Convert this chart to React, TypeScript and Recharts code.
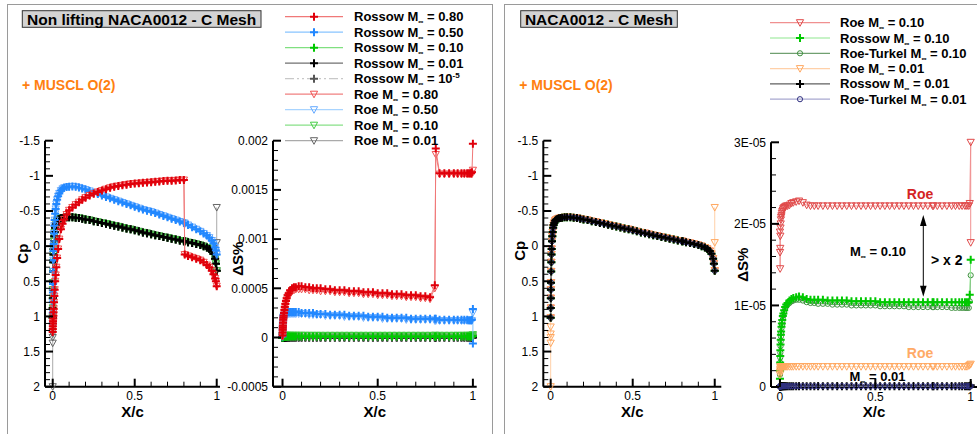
import React from 'react';
import { ScatterChart, Scatter, XAxis, YAxis } from 'recharts';

const FONT = '"Liberation Sans", Arial, Helvetica, sans-serif';
const H = 434;

// chordwise stations x/c, shared by every curve (dense near the leading edge)
const X_C = [
  0, 0.0005, 0.001, 0.0015, 0.002, 0.003, 0.004, 0.005, 0.006, 0.008,
  0.01, 0.012, 0.015, 0.018, 0.022, 0.027, 0.033, 0.04, 0.05, 0.06,
  0.07, 0.085, 0.1, 0.12, 0.14, 0.16, 0.18, 0.2, 0.225, 0.25,
  0.275, 0.3, 0.325, 0.35, 0.375, 0.4, 0.425, 0.45, 0.475, 0.5,
  0.525, 0.55, 0.575, 0.6, 0.625, 0.65, 0.675, 0.7, 0.725, 0.75,
  0.775, 0.8, 0.805, 0.825, 0.85, 0.875, 0.9, 0.92, 0.94, 0.955,
  0.97, 0.98, 0.99, 0.995, 1,
];

// Cp, low Mach (0.10 / 0.01 / 1e-5 all fall on this curve)
const CP_LOW = [
  1.02, 0.88, 0.74, 0.62, 0.52, 0.36, 0.23, 0.12, 0.04, -0.07,
  -0.14, -0.2, -0.26, -0.3, -0.33, -0.36, -0.375, -0.385, -0.395, -0.4,
  -0.405, -0.41, -0.41, -0.41, -0.405, -0.4, -0.39, -0.38, -0.37, -0.355,
  -0.345, -0.33, -0.32, -0.305, -0.29, -0.28, -0.265, -0.25, -0.24, -0.225,
  -0.21, -0.195, -0.185, -0.17, -0.155, -0.145, -0.13, -0.12, -0.105, -0.095,
  -0.08, -0.07, -0.068, -0.055, -0.045, -0.03, -0.015, 0, 0.02, 0.04,
  0.07, 0.11, 0.18, 0.25, 0.35,
];
const CP_M050 = [
  1.1, 0.95, 0.8, 0.66, 0.54, 0.36, 0.2, 0.07, -0.03, -0.18,
  -0.29, -0.37, -0.46, -0.53, -0.6, -0.66, -0.71, -0.75, -0.79, -0.815,
  -0.83, -0.84, -0.845, -0.85, -0.845, -0.835, -0.82, -0.805, -0.785, -0.76,
  -0.74, -0.72, -0.7, -0.68, -0.66, -0.64, -0.62, -0.6, -0.58, -0.56,
  -0.54, -0.52, -0.505, -0.49, -0.47, -0.45, -0.43, -0.41, -0.39, -0.37,
  -0.35, -0.33, -0.325, -0.3, -0.27, -0.24, -0.21, -0.18, -0.15, -0.12,
  -0.08, -0.04, 0.02, 0.06, 0.12,
];
const CP_M080 = [
  1.22, 1.18, 1.14, 1.1, 1.07, 1.03, 0.99, 0.94, 0.89, 0.8,
  0.71, 0.62, 0.5, 0.41, 0.3, 0.17, 0.04, -0.1, -0.24, -0.32,
  -0.38, -0.45, -0.51, -0.55, -0.59, -0.625, -0.66, -0.69, -0.72, -0.745,
  -0.77, -0.79, -0.81, -0.83, -0.845, -0.855, -0.865, -0.875, -0.885, -0.89,
  -0.895, -0.9, -0.905, -0.91, -0.915, -0.92, -0.925, -0.93, -0.93, -0.935,
  -0.94, -0.94, 0.12, 0.14, 0.16, 0.18, 0.2, 0.23, 0.27, 0.3,
  0.35, 0.4, 0.46, 0.5, 0.57,
];
// Roe M=0.01 spurious values at x=0 and x=1
const CP_ROE001_LE = [2.0, 1.38, 1.3, 1.25, 1.15];
const CP_ROE001_TE = [-0.05, -0.55];

// entropy error, left panel, in units of 1E-04
const DS_ROSSOW_080 = [
  0.2, 0.5, 0.8, 1.0, 1.2, 1.5, 1.8, 2.0, 2.2, 2.5,
  2.8, 3.1, 3.4, 3.7, 4.0, 4.3, 4.5, 4.8, 5.0, 5.1,
  5.1, 5.2, 5.2, 5.1, 5.1, 5.0, 5.0, 5.0, 4.9, 4.9,
  4.8, 4.8, 4.8, 4.7, 4.7, 4.7, 4.6, 4.6, 4.6, 4.5,
  4.5, 4.5, 4.4, 4.4, 4.4, 4.3, 4.3, 4.3, 4.2, 4.2,
  4.1, 5.3, 19.2, 16.7, 16.7, 16.7, 16.7, 16.7, 16.7, 16.7,
  16.7, 16.7, 16.7, 16.8, 19.7,
];
const DS_ROE_080 = [
  0.1, 0.4, 0.6, 0.8, 1.0, 1.3, 1.6, 1.8, 2.0, 2.3,
  2.6, 2.9, 3.2, 3.5, 3.8, 4.1, 4.3, 4.5, 4.7, 4.8,
  4.9, 4.9, 4.9, 4.9, 4.8, 4.8, 4.8, 4.7, 4.7, 4.7,
  4.6, 4.6, 4.6, 4.5, 4.5, 4.5, 4.4, 4.4, 4.4, 4.3,
  4.3, 4.3, 4.2, 4.2, 4.2, 4.1, 4.1, 4.1, 4.0, 4.0,
  3.9, 5.0, 18.6, 16.6, 16.6, 16.6, 16.6, 16.6, 16.6, 16.6,
  16.6, 16.6, 16.6, 16.6, 17.0,
];
const DS_ROSSOW_050 = [
  0.1, 0.4, 0.8, 1.1, 1.4, 1.7, 2.0, 2.2, 2.3, 2.4,
  2.5, 2.5, 2.5, 2.5, 2.6, 2.6, 2.6, 2.6, 2.6, 2.6,
  2.6, 2.6, 2.5, 2.5, 2.5, 2.5, 2.4, 2.4, 2.4, 2.3,
  2.3, 2.3, 2.3, 2.2, 2.2, 2.2, 2.2, 2.1, 2.1, 2.1,
  2.1, 2.0, 2.0, 2.0, 2.0, 2.0, 1.9, 1.9, 1.9, 1.9,
  1.9, 1.9, 1.9, 1.8, 1.8, 1.8, 1.8, 1.8, 1.8, 1.8,
  1.8, 1.75, 1.75, 1.8, 2.9,
];
const DS_ROSSOW_050_TE = [-0.6];
const DS_ROE_050 = [
  0.1, 0.3, 0.6, 0.9, 1.2, 1.5, 1.8, 2.0, 2.1, 2.2,
  2.3, 2.3, 2.4, 2.4, 2.4, 2.4, 2.4, 2.4, 2.4, 2.4,
  2.4, 2.4, 2.4, 2.4, 2.3, 2.3, 2.3, 2.3, 2.2, 2.2,
  2.2, 2.2, 2.1, 2.1, 2.1, 2.1, 2.0, 2.0, 2.0, 2.0,
  1.9, 1.9, 1.9, 1.9, 1.9, 1.8, 1.8, 1.8, 1.8, 1.8,
  1.8, 1.7, 1.7, 1.7, 1.7, 1.7, 1.7, 1.7, 1.7, 1.7,
  1.7, 1.7, 1.7, 1.7, 2.5,
];
const DS_ROSSOW_1E5 = [
  0, 0, 0, 0, 0, 0, 0, 0, 0, 0,
  0, 0, 0, 0, 0, 0, 0, 0, 0, 0,
  0, 0, 0, 0, 0, 0, 0, 0, 0, 0,
  0, 0, 0, 0, 0, 0, 0, 0, 0, 0,
  0, 0, 0, 0, 0, 0, 0, 0, 0, 0,
  0, 0, 0, 0, 0, 0, 0, 0, 0, 0,
  0, 0, 0, 0, 0,
];

// entropy error, M=0.10 / 0.01 runs, in units of 1E-05
const DS_ROE_010 = [
  1.9, 1.65, 1.45, 1.7, 1.85, 1.95, 2.0, 2.05, 2.08, 2.1,
  2.13, 2.15, 2.17, 2.19, 2.2, 2.21, 2.22, 2.22, 2.23, 2.25,
  2.26, 2.27, 2.28, 2.26, 2.23, 2.22, 2.22, 2.22, 2.22, 2.22,
  2.22, 2.22, 2.22, 2.22, 2.22, 2.22, 2.22, 2.22, 2.22, 2.22,
  2.22, 2.22, 2.22, 2.22, 2.22, 2.22, 2.22, 2.22, 2.22, 2.22,
  2.22, 2.22, 2.22, 2.22, 2.22, 2.22, 2.22, 2.22, 2.22, 2.22,
  2.22, 2.22, 2.22, 2.25, 3.0,
];
const DS_ROE_010_TE = [1.77];
const DS_ROSSOW_010 = [
  0.1, 0.2, 0.3, 0.38, 0.45, 0.52, 0.58, 0.64, 0.68, 0.74,
  0.78, 0.82, 0.87, 0.9, 0.94, 0.98, 1.01, 1.03, 1.06, 1.08,
  1.09, 1.1, 1.11, 1.1, 1.08, 1.07, 1.07, 1.07, 1.07, 1.06,
  1.06, 1.06, 1.06, 1.06, 1.05, 1.05, 1.05, 1.05, 1.05, 1.05,
  1.04, 1.04, 1.04, 1.04, 1.04, 1.04, 1.04, 1.04, 1.04, 1.04,
  1.04, 1.04, 1.04, 1.04, 1.04, 1.04, 1.04, 1.04, 1.04, 1.04,
  1.04, 1.04, 1.04, 1.13, 1.56,
];
const DS_RT_010 = [
  0.15, 0.22, 0.3, 0.36, 0.42, 0.5, 0.56, 0.62, 0.66, 0.72,
  0.76, 0.8, 0.85, 0.88, 0.92, 0.96, 0.99, 1.01, 1.03, 1.05,
  1.06, 1.07, 1.07, 1.06, 1.04, 1.03, 1.03, 1.02, 1.02, 1.02,
  1.01, 1.01, 1.01, 1.01, 1.0, 1.0, 1.0, 1.0, 1.0, 1.0,
  0.99, 0.99, 0.99, 0.99, 0.99, 0.99, 0.98, 0.98, 0.98, 0.98,
  0.98, 0.98, 0.98, 0.98, 0.98, 0.98, 0.97, 0.97, 0.97, 0.97,
  0.97, 0.97, 0.97, 1.05, 1.37,
];
const DS_ROE_001 = [
  0.15, 0.18, 0.2, 0.22, 0.24, 0.25, 0.25, 0.25, 0.25, 0.25,
  0.25, 0.25, 0.25, 0.25, 0.25, 0.25, 0.25, 0.25, 0.25, 0.25,
  0.25, 0.25, 0.25, 0.25, 0.25, 0.25, 0.25, 0.25, 0.25, 0.25,
  0.25, 0.25, 0.25, 0.25, 0.25, 0.25, 0.25, 0.25, 0.25, 0.25,
  0.25, 0.25, 0.25, 0.25, 0.25, 0.25, 0.25, 0.25, 0.25, 0.25,
  0.25, 0.25, 0.25, 0.25, 0.25, 0.25, 0.25, 0.25, 0.25, 0.25,
  0.25, 0.25, 0.26, 0.27, 0.28,
];
const DS_ROSSOW_001 = [
  0, 0.005, 0.01, 0.01, 0.01, 0.01, 0.01, 0.01, 0.01, 0.01,
  0.01, 0.01, 0.01, 0.01, 0.01, 0.01, 0.01, 0.01, 0.01, 0.01,
  0.01, 0.01, 0.01, 0.01, 0.01, 0.01, 0.01, 0.01, 0.01, 0.01,
  0.01, 0.01, 0.01, 0.01, 0.01, 0.01, 0.01, 0.01, 0.01, 0.01,
  0.01, 0.01, 0.01, 0.01, 0.01, 0.01, 0.01, 0.01, 0.01, 0.01,
  0.01, 0.01, 0.01, 0.01, 0.01, 0.01, 0.01, 0.01, 0.01, 0.01,
  0.01, 0.01, 0.01, 0.01, 0.02,
];
const DS_RT_001 = [
  0, 0.01, 0.01, 0.01, 0.01, 0.01, 0.01, 0.01, 0.01, 0.01,
  0.01, 0.01, 0.01, 0.01, 0.01, 0.01, 0.01, 0.01, 0.01, 0.01,
  0.01, 0.01, 0.01, 0.01, 0.01, 0.01, 0.01, 0.01, 0.01, 0.01,
  0.01, 0.01, 0.01, 0.01, 0.01, 0.01, 0.01, 0.01, 0.01, 0.01,
  0.01, 0.01, 0.01, 0.01, 0.01, 0.01, 0.01, 0.01, 0.01, 0.01,
  0.01, 0.01, 0.01, 0.01, 0.01, 0.01, 0.01, 0.01, 0.01, 0.01,
  0.01, 0.01, 0.01, 0.01, 0.01,
];

// axis ticks
const X_MAJOR = [0, 0.5, 1];
const CP_MAJOR = [-1.5, -1, -0.5, 0, 0.5, 1, 1.5, 2];
const DSL_MAJOR = [-0.0005, 0, 0.0005, 0.001, 0.0015, 0.002];
const DSR_MAJOR = [0, 1e-5, 2e-5, 3e-5];
const DSR_LABELS = ['0', '1E-05', '2E-05', '3E-05'];

const steps = (lo: number, hi: number, step: number) => {
  const out: number[] = [];
  const n = Math.round((hi - lo) / step);
  for (let i = 0; i <= n; i++) out.push(+(lo + i * step).toPrecision(10));
  return out;
};

type Pt = { x: number; y: number };
const pts = (ys: number[], scale = 1): Pt[] => ys.map((y, i) => ({ x: X_C[i], y: y * scale }));
const at = (x: number, ys: number[], scale = 1): Pt[] => ys.map((y) => ({ x, y: y * scale }));

type Kind = 'plus' | 'tri' | 'circ';
interface Style { scheme: string; mach: string; sup?: string; kind: Kind; mark: string; line: string; dash?: string }
interface Series extends Style { id: string; data: Pt[] }

const ST: Record<string, Style> = {
  rossow080: { scheme: 'Rossow', mach: '0.80', kind: 'plus', mark: '#e0000b', line: '#f07878' },
  rossow050: { scheme: 'Rossow', mach: '0.50', kind: 'plus', mark: '#2288ff', line: '#88c4ff' },
  rossow010: { scheme: 'Rossow', mach: '0.10', kind: 'plus', mark: '#00c800', line: '#80e080' },
  rossow001: { scheme: 'Rossow', mach: '0.01', kind: 'plus', mark: '#000000', line: '#707070' },
  rossow1e5: { scheme: 'Rossow', mach: '10', sup: '-5', kind: 'plus', mark: '#555555', line: '#c8c8c8', dash: '9 3 2 3 2 3' },
  roe080: { scheme: 'Roe', mach: '0.80', kind: 'tri', mark: '#f05050', line: '#f08080' },
  roe050: { scheme: 'Roe', mach: '0.50', kind: 'tri', mark: '#66aaff', line: '#a8d4ff' },
  roe010: { scheme: 'Roe', mach: '0.10', kind: 'tri', mark: '#44cc44', line: '#88e088' },
  roe001: { scheme: 'Roe', mach: '0.01', kind: 'tri', mark: '#666666', line: '#aaaaaa' },
  roe010r: { scheme: 'Roe', mach: '0.10', kind: 'tri', mark: '#e04848', line: '#f09090' },
  rossow010r: { scheme: 'Rossow', mach: '0.10', kind: 'plus', mark: '#00c800', line: '#90e890' },
  rt010: { scheme: 'Roe-Turkel', mach: '0.10', kind: 'circ', mark: '#3d8f3d', line: '#70a070' },
  roe001r: { scheme: 'Roe', mach: '0.01', kind: 'tri', mark: '#ffa860', line: '#ffd0a8' },
  rossow001r: { scheme: 'Rossow', mach: '0.01', kind: 'plus', mark: '#000000', line: '#606060' },
  rt001: { scheme: 'Roe-Turkel', mach: '0.01', kind: 'circ', mark: '#303080', line: '#a8a8d0' },
};
const mk = (id: string, data: Pt[]): Series => ({ id, ...ST[id], data });

const roe001Cp = [...at(0, CP_ROE001_LE), ...pts(CP_LOW), ...at(1, CP_ROE001_TE)];

const CP_LEFT: Series[] = [
  mk('roe001', roe001Cp),
  mk('roe010', pts(CP_LOW)),
  mk('rossow010', pts(CP_LOW)),
  mk('rossow1e5', pts(CP_LOW)),
  mk('rossow001', pts(CP_LOW)),
  mk('roe050', pts(CP_M050)),
  mk('rossow050', pts(CP_M050)),
  mk('roe080', pts(CP_M080)),
  mk('rossow080', pts(CP_M080)),
];
const DS_LEFT: Series[] = [
  mk('rossow1e5', pts(DS_ROSSOW_1E5, 1e-4)),
  mk('rossow001', pts(DS_ROSSOW_001, 1e-5)),
  mk('roe001', pts(DS_ROE_001, 1e-5)),
  mk('roe010', [...pts(DS_ROE_010, 1e-5), ...at(1, DS_ROE_010_TE, 1e-5)]),
  mk('rossow010', pts(DS_ROSSOW_010, 1e-5)),
  mk('roe050', pts(DS_ROE_050, 1e-4)),
  mk('rossow050', [...pts(DS_ROSSOW_050, 1e-4), ...at(1, DS_ROSSOW_050_TE, 1e-4)]),
  mk('roe080', pts(DS_ROE_080, 1e-4)),
  mk('rossow080', pts(DS_ROSSOW_080, 1e-4)),
];
const CP_RIGHT: Series[] = [
  mk('roe010r', pts(CP_LOW)),
  mk('rt010', pts(CP_LOW)),
  mk('rossow010r', pts(CP_LOW)),
  mk('roe001r', roe001Cp),
  mk('rt001', pts(CP_LOW)),
  mk('rossow001r', pts(CP_LOW)),
];
const DS_RIGHT: Series[] = [
  mk('roe010r', [...pts(DS_ROE_010, 1e-5), ...at(1, DS_ROE_010_TE, 1e-5)]),
  mk('rt010', pts(DS_RT_010, 1e-5)),
  mk('rossow010r', pts(DS_ROSSOW_010, 1e-5)),
  mk('roe001r', pts(DS_ROE_001, 1e-5)),
  mk('rossow001r', pts(DS_ROSSOW_001, 1e-5)),
  mk('rt001', pts(DS_RT_001, 1e-5)),
];

const LEFT_LEGEND = ['rossow080', 'rossow050', 'rossow010', 'rossow001', 'rossow1e5', 'roe080', 'roe050', 'roe010', 'roe001'];
const RIGHT_LEGEND = ['roe010r', 'rossow010r', 'rt010', 'roe001r', 'rossow001r', 'rt001'];

function Marker({ kind, cx, cy, color }: { kind: Kind; cx?: number; cy?: number; color: string }) {
  if (cx == null || cy == null) return null;
  if (kind === 'plus')
    return <path d={`M${cx - 4},${cy}H${cx + 4}M${cx},${cy - 4}V${cy + 4}`} stroke={color} strokeWidth={2} fill="none" />;
  if (kind === 'tri')
    return <path d={`M${cx - 3.6},${cy - 3}L${cx + 3.6},${cy - 3}L${cx},${cy + 3.6}Z`} stroke={color} strokeWidth={1} fill="none" />;
  return <circle cx={cx} cy={cy} r={2.6} stroke={color} strokeWidth={1} fill="none" />;
}

const isMajor = (v: number, list: number[], tol: number) => list.findIndex((m) => Math.abs(m - v) < tol);

const XTick = (props: any) => {
  const { x, y, payload } = props;
  const i = isMajor(payload.value, X_MAJOR, 1e-6);
  return (
    <g>
      <line x1={x} x2={x} y1={y} y2={y - (i >= 0 ? 8 : 5)} stroke="#000" strokeWidth={i >= 0 ? 2 : 1} />
      {i >= 0 && (
        <text x={x} y={y + 13.5} textAnchor="middle" fontSize={12} fontFamily={FONT} fill="#000">
          {String(X_MAJOR[i])}
        </text>
      )}
    </g>
  );
};

const yTick = (major: number[], labels: string[], tol: number) => (props: any) => {
  const { x, y, payload } = props;
  const i = isMajor(payload.value, major, tol);
  return (
    <g>
      <line x1={x} x2={x + (i >= 0 ? 8 : 5)} y1={y} y2={y} stroke="#000" strokeWidth={i >= 0 ? 2 : 1} />
      {i >= 0 && (
        <text x={x - 5} y={y + 4.3} textAnchor="end" fontSize={12} fontFamily={FONT} fill="#000">
          {labels[i]}
        </text>
      )}
    </g>
  );
};

interface ChartProps {
  left: number; width: number; plotTop: number; plotBottom: number; right: number; yWidth: number;
  xDomain: [number, number]; yDomain: [number, number]; reversed?: boolean;
  yTicks: number[]; yTickFn: (p: any) => React.ReactElement; yTitle: string; yTitleDy: number;
  series: Series[];
}

function Chart(p: ChartProps) {
  const xAxisH = 2 * (411.5 - p.plotBottom);
  const mb = H - p.plotBottom - xAxisH;
  const titleProps = { fill: '#000', fontSize: 15, fontWeight: 'bold', fontFamily: FONT };
  return (
    <div style={{ position: 'absolute', left: p.left, top: 0 }}>
      <ScatterChart width={p.width} height={H} margin={{ top: p.plotTop, right: p.right, bottom: mb, left: 0 }}>
        <XAxis
          type="number" dataKey="x" domain={p.xDomain} ticks={steps(0, 1, 0.1)} interval={0}
          tickSize={0} tickMargin={0} tickLine={false} axisLine={{ stroke: '#000', strokeWidth: 2 }}
          tick={XTick} height={xAxisH}
          label={{ value: 'X/c', position: 'center', ...titleProps }}
        />
        <YAxis
          type="number" dataKey="y" domain={p.yDomain} reversed={p.reversed} ticks={p.yTicks} interval={0}
          tickSize={0} tickMargin={0} tickLine={false} axisLine={{ stroke: '#000', strokeWidth: 2 }}
          tick={p.yTickFn} width={p.yWidth}
          label={{ value: p.yTitle, angle: -90, position: 'center', dy: p.yTitleDy, ...titleProps }}
        />
        {p.series.map((s) => (
          <Scatter
            key={s.id}
            data={s.data}
            line={{ stroke: s.line, strokeWidth: 1, strokeDasharray: s.dash }}
            lineType="joint"
            shape={(sp: any) => <Marker kind={s.kind} cx={sp.cx} cy={sp.cy} color={s.mark} />}
            isAnimationActive={false}
          />
        ))}
      </ScatterChart>
    </div>
  );
}

function LegendRows({ ids, x0, x1, xm, xt, y0, dy }: { ids: string[]; x0: number; x1: number; xm: number; xt: number; y0: number; dy: number }) {
  return (
    <g>
      {ids.map((id, i) => {
        const s = ST[id];
        const y = y0 + i * dy;
        return (
          <g key={id}>
            <line x1={x0} x2={x1} y1={y} y2={y} stroke={s.line} strokeWidth={1.2} strokeDasharray={s.dash} />
            <Marker kind={s.kind} cx={xm} cy={y} color={s.mark} />
            <text x={xt} y={y + 4.5} fontSize={13} fontWeight="bold" fontFamily={FONT} fill="#000">
              {s.scheme} M<tspan fontSize={7} dy={3}>∞</tspan>
              <tspan dy={-3}> = {s.mach}</tspan>
              {s.sup && <tspan fontSize={8} dy={-5}>{s.sup}</tspan>}
            </text>
          </g>
        );
      })}
    </g>
  );
}

const MachText = ({ x, y, val }: { x: number; y: number; val: string }) => (
  <text x={x} y={y} fontSize={13} fontWeight="bold" fontFamily={FONT} fill="#000">
    M<tspan fontSize={7} dy={3}>∞</tspan>
    <tspan dy={-3}> = {val}</tspan>
  </text>
);

export default function App() {
  return (
    <div style={{ position: 'absolute', left: 0, top: 0, width: 977, height: H, background: '#fff', overflow: 'hidden', fontFamily: FONT }}>
      <svg width={977} height={H} style={{ position: 'absolute', left: 0, top: 0 }}>
        <rect x={7.5} y={4.5} width={485} height={440} fill="none" stroke="#9a9a9a" strokeWidth={1} />
        <rect x={504.5} y={4.5} width={480} height={440} fill="none" stroke="#9a9a9a" strokeWidth={1} />
      </svg>

      <Chart
        left={0} width={240} plotTop={140.7} plotBottom={386.7} right={20} yWidth={45}
        xDomain={[-0.047, 1.02]} yDomain={[-1.5, 2]} reversed
        yTicks={steps(-1.5, 2, 0.1)} yTickFn={yTick(CP_MAJOR, CP_MAJOR.map(String), 1e-6)}
        yTitle="Cp" yTitleDy={-10} series={CP_LEFT}
      />
      <Chart
        left={203} width={287} plotTop={140.7} plotBottom={386.7} right={13.3} yWidth={70}
        xDomain={[-0.05, 1.02]} yDomain={[-0.0005, 0.002]}
        yTicks={steps(-0.0005, 0.002, 0.0001)} yTickFn={yTick(DSL_MAJOR, DSL_MAJOR.map(String), 1e-9)}
        yTitle="ΔS%" yTitleDy={-5} series={DS_LEFT}
      />
      <Chart
        left={497} width={235} plotTop={140.7} plotBottom={386.7} right={10.7} yWidth={46.3}
        xDomain={[-0.045, 1.04]} yDomain={[-1.5, 2]} reversed
        yTicks={steps(-1.5, 2, 0.1)} yTickFn={yTick(CP_MAJOR, CP_MAJOR.map(String), 1e-6)}
        yTitle="Cp" yTitleDy={-13} series={CP_RIGHT}
      />
      <Chart
        left={715} width={262} plotTop={142.3} plotBottom={387} right={0} yWidth={56}
        xDomain={[-0.047, 1.033]} yDomain={[0, 3e-5]}
        yTicks={steps(0, 3e-5, 2e-6)} yTickFn={yTick(DSR_MAJOR, DSR_LABELS, 1e-10)}
        yTitle="ΔS%" yTitleDy={0} series={DS_RIGHT}
      />

      <svg width={977} height={H} style={{ position: 'absolute', left: 0, top: 0, pointerEvents: 'none' }}>
        <rect x={22.3} y={10.7} width={238.7} height={16.6} fill="#d3d3d3" stroke="#333" strokeWidth={1} />
        <text x={141.6} y={24.5} textAnchor="middle" fontSize={15.5} fontWeight="bold" fontFamily={FONT} fill="#000">
          Non lifting NACA0012 - C Mesh
        </text>
        <rect x={520.7} y={10.7} width={156.6} height={16.6} fill="#d3d3d3" stroke="#333" strokeWidth={1} />
        <text x={599} y={24.5} textAnchor="middle" fontSize={15.5} fontWeight="bold" fontFamily={FONT} fill="#000">
          NACA0012 - C Mesh
        </text>
        <text x={22} y={89.5} fontSize={14} fontWeight="bold" fontFamily={FONT} fill="#ff8010">+ MUSCL O(2)</text>
        <text x={519.3} y={89.5} fontSize={14} fontWeight="bold" fontFamily={FONT} fill="#ff8010">+ MUSCL O(2)</text>

        <LegendRows ids={LEFT_LEGEND} x0={285} x1={343} xm={314} xt={354} y0={16.7} dy={15.5} />
        <LegendRows ids={RIGHT_LEGEND} x0={770} x1={830} xm={800} xt={840} y0={22.7} dy={15.3} />

        <text x={920} y={199} textAnchor="middle" fontSize={14} fontWeight="bold" fontFamily={FONT} fill="#d42424">Roe</text>
        <text x={920} y={357.5} textAnchor="middle" fontSize={14} fontWeight="bold" fontFamily={FONT} fill="#ffaa66">Roe</text>
        <MachText x={850} y={256} val="0.10" />
        <MachText x={849.5} y={381} val="0.01" />
        <text x={931} y={264.5} fontSize={14} fontWeight="bold" fontFamily={FONT} fill="#000">&gt; x 2</text>
        <line x1={923.3} x2={923.3} y1={224} y2={288} stroke="#000" strokeWidth={1} />
        <path d="M923.3,215 L920,226 L926.6,226 Z" fill="#000" />
        <path d="M923.3,296.7 L920,285.7 L926.6,285.7 Z" fill="#000" />
      </svg>
    </div>
  );
}
